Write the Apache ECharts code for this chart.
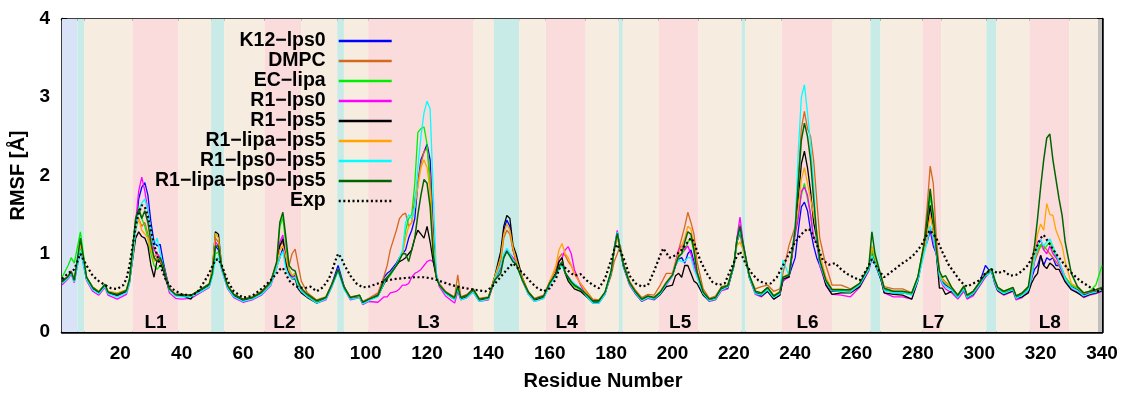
<!DOCTYPE html>
<html>
<head>
<meta charset="utf-8">
<script src="https://cdn.jsdelivr.net/npm/echarts@6/dist/echarts.min.js"></script>
<style>
  html, body { margin: 0; padding: 0; background: #ffffff; }
  #chart { width: 1125px; height: 396px; }
</style>
</head>
<body>
<div id="chart"></div>
<script>
// Residue numbers sampled for the simulated RMSF profiles (one row per stretch of sequence)
const residues = [
  1, 3, 4, 5, 7, 9, 11, 13, 15, 16, 19, 22, 23,
  24, 25, 26, 27, 28, 29, 30, 31, 32, 33, 34, 35, 36, 38,
  40, 43, 44, 46, 49, 50, 51, 52, 53, 55, 57, 60, 63,
  66, 69, 71, 72, 73, 74, 75, 76, 77, 78, 79, 81,
  84, 87, 89, 91, 93, 95, 98, 99, 101,
  104, 106, 107, 108, 110, 111, 112, 113, 114, 115, 116, 117,
  118, 119, 120, 121, 122, 123, 124, 126, 128, 129, 130, 131,
  133, 135, 137, 140, 142, 144, 145, 146, 147, 148, 149, 151, 153,
  155, 158, 160, 162, 163, 164, 165, 166, 167, 168, 170, 172,
  174, 176, 178, 180, 181, 182, 183, 184, 186, 188, 190, 192,
  194, 196, 198, 200, 201, 202, 203, 204, 205, 206, 207, 208,
  210, 212, 214, 216, 218, 220, 221, 222, 223, 225, 227, 229, 231,
  233, 235, 236, 238, 240, 241, 242, 243, 244, 245, 246, 247, 248, 250,
  252, 255, 258, 261, 264, 265, 266, 268, 269, 272, 275, 278, 280,
  282, 283, 284, 285, 286, 287, 288, 289,
  291, 293, 295, 296, 298, 300, 302, 303, 304, 305, 306, 308, 311, 312,
  314, 316, 317, 318, 319, 320, 321, 322, 323, 324, 325, 326, 327, 328,
  330, 332, 334, 336, 338, 340
];

// RMSF (Å) per system, same row layout as residues
const k12Lps0 = [
  0.62, 0.70, 0.76, 0.65, 1.10, 0.68, 0.55, 0.50, 0.59, 0.50, 0.46, 0.52, 0.66,
  0.98, 1.30, 1.70, 1.85, 1.91, 1.75, 1.40, 1.15, 1.10, 1.12, 0.90, 0.72, 0.56, 0.47,
  0.46, 0.46, 0.48, 0.52, 0.60, 0.76, 1.10, 1.05, 0.82, 0.57, 0.46, 0.40, 0.43,
  0.50, 0.62, 0.84, 0.95, 1.07, 0.85, 0.76, 0.70, 0.72, 0.60, 0.53, 0.46,
  0.39, 0.43, 0.62, 0.85, 0.58, 0.43, 0.45, 0.37, 0.41,
  0.48, 0.70, 0.75, 0.78, 0.88, 0.95, 1.00, 1.05, 1.20, 1.30, 1.45, 1.90,
  2.20, 2.30, 2.40, 2.20, 1.30, 0.72, 0.60, 0.50, 0.45, 0.43, 0.55, 0.43,
  0.46, 0.53, 0.41, 0.43, 0.69, 0.95, 1.30, 1.43, 1.35, 1.05, 0.92, 0.68, 0.50,
  0.41, 0.45, 0.62, 0.75, 0.85, 0.88, 0.75, 0.70, 0.65, 0.60, 0.55, 0.47,
  0.39, 0.39, 0.50, 0.77, 1.05, 1.28, 1.05, 0.85, 0.62, 0.50, 0.41, 0.45,
  0.43, 0.50, 0.62, 0.72, 0.85, 0.93, 0.95, 0.88, 1.00, 1.05, 0.90, 0.75,
  0.50, 0.41, 0.43, 0.56, 0.58, 0.85, 1.15, 1.30, 1.10, 0.72, 0.51, 0.48, 0.55,
  0.45, 0.50, 0.65, 0.72, 0.95, 1.30, 1.60, 1.66, 1.55, 1.30, 1.10, 0.95, 0.85, 0.64,
  0.52, 0.52, 0.52, 0.60, 0.81, 1.00, 0.90, 0.69, 0.54, 0.50, 0.50, 0.48, 0.69,
  1.05, 1.15, 1.30, 1.10, 1.00, 0.72, 0.64, 0.60,
  0.55, 0.45, 0.57, 0.45, 0.50, 0.62, 0.85, 0.80, 0.78, 0.64, 0.55, 0.49, 0.55, 0.44,
  0.48, 0.55, 0.68, 0.80, 0.85, 0.98, 0.85, 0.95, 0.92, 0.95, 0.85, 0.85, 0.78, 0.68,
  0.58, 0.54, 0.47, 0.50, 0.52, 0.55
];
const dmpc = [
  0.65, 0.72, 0.78, 0.67, 1.08, 0.70, 0.57, 0.52, 0.60, 0.52, 0.49, 0.54, 0.68,
  1.00, 1.35, 1.45, 1.35, 1.40, 1.25, 1.10, 0.95, 1.00, 0.95, 0.85, 0.70, 0.56, 0.48,
  0.48, 0.47, 0.49, 0.54, 0.62, 0.80, 1.20, 1.15, 0.85, 0.60, 0.48, 0.42, 0.45,
  0.52, 0.64, 0.88, 1.10, 1.15, 0.90, 0.85, 1.00, 1.06, 0.85, 0.65, 0.50,
  0.41, 0.45, 0.62, 0.80, 0.57, 0.45, 0.47, 0.39, 0.43,
  0.50, 0.72, 0.85, 1.05, 1.30, 1.45, 1.50, 1.52, 1.35, 1.40, 1.70, 1.90,
  2.15, 2.30, 2.35, 2.00, 1.20, 0.72, 0.62, 0.52, 0.47, 0.45, 0.73, 0.45,
  0.48, 0.55, 0.43, 0.45, 0.70, 0.90, 1.20, 1.30, 1.25, 1.05, 0.90, 0.70, 0.52,
  0.43, 0.47, 0.65, 0.80, 0.95, 1.00, 0.98, 0.90, 0.85, 0.75, 0.62, 0.52,
  0.42, 0.41, 0.50, 0.72, 0.90, 1.00, 1.11, 0.88, 0.65, 0.53, 0.44, 0.48,
  0.47, 0.60, 0.75, 0.75, 0.90, 1.05, 1.20, 1.35, 1.53, 1.40, 1.25, 0.90,
  0.55, 0.43, 0.46, 0.58, 0.60, 0.85, 1.15, 1.25, 1.05, 0.72, 0.55, 0.58, 0.60,
  0.52, 0.55, 0.75, 1.11, 1.35, 2.00, 2.60, 2.82, 2.60, 2.50, 2.20, 1.70, 1.20, 0.85,
  0.60, 0.60, 0.55, 0.62, 0.82, 1.05, 0.92, 0.72, 0.58, 0.55, 0.55, 0.50, 0.70,
  1.15, 1.60, 2.12, 1.90, 1.20, 0.78, 0.68, 0.64,
  0.57, 0.47, 0.58, 0.47, 0.52, 0.63, 0.75, 0.77, 0.80, 0.67, 0.57, 0.52, 0.56, 0.46,
  0.50, 0.57, 0.73, 0.90, 1.00, 1.10, 1.10, 1.05, 1.00, 0.95, 0.90, 0.85, 0.80, 0.70,
  0.60, 0.56, 0.49, 0.51, 0.53, 0.56
];
const ecLipa = [
  0.70, 0.85, 0.95, 0.88, 1.28, 0.70, 0.57, 0.51, 0.61, 0.51, 0.48, 0.53, 0.66,
  1.05, 1.45, 1.60, 1.45, 1.35, 1.20, 1.00, 0.85, 0.80, 0.85, 0.80, 0.66, 0.53, 0.47,
  0.47, 0.46, 0.48, 0.53, 0.60, 0.72, 1.00, 1.02, 0.82, 0.58, 0.47, 0.41, 0.43,
  0.50, 0.63, 0.88, 1.35, 1.46, 1.10, 0.80, 0.72, 0.75, 0.63, 0.55, 0.47,
  0.39, 0.43, 0.60, 0.79, 0.56, 0.43, 0.47, 0.37, 0.41,
  0.46, 0.62, 0.68, 0.72, 0.85, 0.92, 1.00, 1.30, 1.45, 1.50, 1.90, 2.55,
  2.60, 2.62, 2.40, 1.80, 1.00, 0.70, 0.60, 0.50, 0.45, 0.43, 0.60, 0.43,
  0.46, 0.54, 0.41, 0.43, 0.66, 0.80, 0.95, 1.03, 0.98, 0.90, 0.88, 0.66, 0.50,
  0.41, 0.45, 0.62, 0.73, 0.82, 0.88, 0.75, 0.68, 0.63, 0.58, 0.54, 0.47,
  0.39, 0.39, 0.50, 0.77, 1.05, 1.26, 1.05, 0.85, 0.62, 0.50, 0.42, 0.45,
  0.43, 0.50, 0.62, 0.72, 0.85, 0.95, 1.00, 1.05, 1.15, 1.20, 1.02, 0.75,
  0.50, 0.42, 0.44, 0.57, 0.59, 0.86, 1.20, 1.38, 1.15, 0.73, 0.52, 0.49, 0.56,
  0.46, 0.51, 0.70, 0.72, 1.30, 1.50, 1.75, 1.90, 1.70, 1.50, 1.20, 1.20, 0.90, 0.65,
  0.53, 0.53, 0.53, 0.61, 0.82, 1.05, 0.92, 0.70, 0.55, 0.51, 0.51, 0.49, 0.70,
  1.10, 1.40, 1.74, 1.45, 1.03, 0.75, 0.66, 0.62,
  0.56, 0.46, 0.58, 0.46, 0.51, 0.62, 0.73, 0.76, 0.80, 0.66, 0.56, 0.51, 0.56, 0.45,
  0.49, 0.56, 0.73, 0.95, 1.05, 1.12, 1.05, 1.10, 1.15, 1.05, 0.98, 0.90, 0.80, 0.70,
  0.60, 0.56, 0.50, 0.52, 0.60, 0.85
];
const r1Lps0 = [
  0.60, 0.68, 0.74, 0.63, 1.05, 0.66, 0.52, 0.47, 0.57, 0.47, 0.42, 0.48, 0.62,
  0.95, 1.40, 1.80, 1.98, 1.80, 1.55, 1.30, 1.05, 1.00, 0.95, 0.82, 0.66, 0.50, 0.43,
  0.42, 0.43, 0.45, 0.50, 0.57, 0.72, 1.15, 1.10, 0.80, 0.55, 0.44, 0.38, 0.41,
  0.47, 0.59, 0.82, 1.15, 1.24, 0.95, 0.76, 0.70, 0.71, 0.60, 0.52, 0.45,
  0.37, 0.41, 0.58, 0.79, 0.55, 0.41, 0.44, 0.35, 0.39,
  0.38, 0.45, 0.45, 0.50, 0.52, 0.55, 0.60, 0.60, 0.62, 0.70, 0.75, 0.77,
  0.80, 0.85, 0.90, 0.92, 0.90, 0.75, 0.58, 0.46, 0.40, 0.37, 0.52, 0.41,
  0.44, 0.51, 0.39, 0.41, 0.66, 0.82, 0.95, 1.05, 1.00, 0.95, 0.90, 0.66, 0.48,
  0.39, 0.43, 0.60, 0.75, 0.90, 0.95, 1.05, 1.09, 1.00, 0.80, 0.60, 0.46,
  0.37, 0.37, 0.48, 0.76, 1.08, 1.30, 1.05, 0.83, 0.60, 0.48, 0.39, 0.43,
  0.41, 0.48, 0.60, 0.72, 0.88, 1.05, 1.11, 1.05, 1.10, 1.00, 0.85, 0.72,
  0.48, 0.39, 0.41, 0.53, 0.55, 0.85, 1.20, 1.47, 1.15, 0.70, 0.48, 0.45, 0.52,
  0.42, 0.47, 0.66, 0.70, 1.25, 1.45, 1.80, 1.85, 1.75, 1.50, 1.20, 1.15, 0.85, 0.60,
  0.48, 0.47, 0.45, 0.57, 0.78, 0.95, 0.88, 0.66, 0.50, 0.45, 0.45, 0.42, 0.65,
  1.05, 1.20, 1.34, 1.15, 1.00, 0.70, 0.60, 0.55,
  0.50, 0.42, 0.52, 0.42, 0.46, 0.58, 0.70, 0.74, 0.78, 0.62, 0.52, 0.47, 0.52, 0.41,
  0.44, 0.52, 0.68, 0.90, 1.15, 1.18, 1.05, 1.00, 1.10, 1.00, 0.95, 0.88, 0.78, 0.66,
  0.55, 0.51, 0.44, 0.47, 0.49, 0.52
];
const r1Lps5 = [
  0.66, 0.70, 0.76, 0.66, 1.12, 0.68, 0.56, 0.50, 0.60, 0.50, 0.47, 0.52, 0.64,
  0.92, 1.20, 1.28, 1.22, 1.20, 1.10, 0.85, 0.70, 0.92, 0.90, 0.80, 0.65, 0.54, 0.47,
  0.47, 0.42, 0.48, 0.53, 0.60, 0.78, 1.28, 1.25, 0.85, 0.58, 0.47, 0.41, 0.43,
  0.50, 0.62, 0.84, 1.10, 1.19, 0.90, 0.74, 0.68, 0.68, 0.55, 0.50, 0.44,
  0.37, 0.43, 0.60, 0.80, 0.56, 0.43, 0.45, 0.37, 0.41,
  0.46, 0.62, 0.68, 0.75, 0.85, 0.90, 0.92, 0.95, 1.00, 1.05, 1.20, 1.30,
  1.25, 1.20, 1.35, 1.15, 0.90, 0.70, 0.60, 0.50, 0.44, 0.42, 0.55, 0.42,
  0.45, 0.53, 0.41, 0.43, 0.70, 1.03, 1.35, 1.49, 1.45, 1.11, 1.00, 0.70, 0.50,
  0.41, 0.44, 0.62, 0.75, 0.90, 0.95, 0.75, 0.65, 0.60, 0.55, 0.52, 0.45,
  0.38, 0.38, 0.49, 0.75, 1.05, 1.22, 1.05, 0.84, 0.62, 0.49, 0.40, 0.44,
  0.42, 0.48, 0.58, 0.60, 0.72, 0.75, 0.70, 0.85, 0.85, 0.75, 0.65, 0.62,
  0.47, 0.40, 0.42, 0.55, 0.56, 0.84, 1.15, 1.30, 1.10, 0.70, 0.50, 0.46, 0.52,
  0.42, 0.47, 0.68, 0.70, 1.30, 1.70, 2.15, 2.31, 2.10, 1.80, 1.40, 1.20, 0.90, 0.60,
  0.48, 0.50, 0.50, 0.58, 0.80, 0.98, 0.88, 0.66, 0.50, 0.48, 0.47, 0.42, 0.66,
  1.10, 1.30, 1.62, 1.30, 1.00, 0.56, 0.56, 0.48,
  0.52, 0.44, 0.55, 0.44, 0.48, 0.60, 0.72, 0.75, 0.78, 0.64, 0.53, 0.48, 0.53, 0.43,
  0.45, 0.50, 0.62, 0.70, 0.75, 0.98, 0.85, 0.81, 0.88, 0.85, 0.80, 0.80, 0.72, 0.64,
  0.54, 0.50, 0.45, 0.48, 0.50, 0.53
];
const r1LipaLps5 = [
  0.63, 0.70, 0.76, 0.66, 1.12, 0.70, 0.57, 0.52, 0.61, 0.52, 0.50, 0.54, 0.66,
  0.96, 1.30, 1.45, 1.30, 1.25, 1.20, 1.05, 0.90, 0.95, 0.90, 0.85, 0.68, 0.55, 0.48,
  0.48, 0.47, 0.49, 0.54, 0.61, 0.80, 1.26, 1.20, 0.85, 0.59, 0.48, 0.42, 0.44,
  0.51, 0.63, 0.85, 1.05, 1.10, 0.95, 0.78, 0.73, 0.74, 0.62, 0.55, 0.48,
  0.40, 0.44, 0.61, 0.80, 0.57, 0.44, 0.46, 0.38, 0.42,
  0.47, 0.64, 0.70, 0.75, 0.85, 0.95, 1.00, 1.20, 1.35, 1.40, 1.60, 1.85,
  2.10, 2.20, 2.10, 1.80, 1.10, 0.70, 0.60, 0.51, 0.46, 0.44, 0.58, 0.44,
  0.47, 0.54, 0.42, 0.44, 0.70, 0.95, 1.25, 1.38, 1.30, 1.08, 0.92, 0.70, 0.51,
  0.42, 0.46, 0.64, 0.85, 1.05, 1.13, 1.00, 0.95, 0.85, 0.75, 0.62, 0.50,
  0.40, 0.40, 0.50, 0.76, 1.05, 1.20, 1.08, 0.86, 0.63, 0.51, 0.42, 0.46,
  0.44, 0.52, 0.64, 0.74, 0.88, 1.00, 1.10, 1.20, 1.35, 1.32, 1.10, 0.78,
  0.51, 0.42, 0.44, 0.57, 0.59, 0.85, 1.10, 1.15, 1.05, 0.72, 0.52, 0.50, 0.57,
  0.47, 0.52, 0.70, 0.75, 1.30, 1.60, 1.95, 2.10, 1.90, 1.70, 1.50, 1.30, 1.00, 0.70,
  0.55, 0.55, 0.53, 0.62, 0.84, 1.10, 0.95, 0.72, 0.56, 0.52, 0.52, 0.50, 0.70,
  1.05, 1.25, 1.49, 1.30, 1.05, 0.76, 0.67, 0.63,
  0.57, 0.47, 0.59, 0.47, 0.52, 0.63, 0.74, 0.77, 0.80, 0.67, 0.57, 0.52, 0.57, 0.46,
  0.50, 0.58, 0.78, 1.00, 1.25, 1.38, 1.30, 1.64, 1.50, 1.49, 1.30, 1.20, 1.10, 0.90,
  0.62, 0.57, 0.50, 0.52, 0.54, 0.57
];
const r1Lps0Lps5 = [
  0.62, 0.69, 0.75, 0.64, 1.05, 0.67, 0.54, 0.49, 0.58, 0.49, 0.45, 0.50, 0.62,
  0.95, 1.30, 1.55, 1.65, 1.70, 1.55, 1.30, 1.10, 1.20, 1.00, 0.85, 0.68, 0.53, 0.46,
  0.45, 0.45, 0.47, 0.51, 0.58, 0.70, 0.92, 0.95, 0.80, 0.56, 0.45, 0.39, 0.42,
  0.48, 0.60, 0.82, 0.95, 1.03, 0.80, 0.72, 0.68, 0.70, 0.58, 0.52, 0.45,
  0.37, 0.42, 0.58, 0.78, 0.54, 0.42, 0.44, 0.36, 0.40,
  0.45, 0.63, 0.70, 0.74, 0.86, 0.95, 1.05, 1.40, 1.50, 1.45, 1.60, 2.10,
  2.50, 2.80, 2.95, 2.85, 1.80, 0.75, 0.60, 0.49, 0.44, 0.41, 0.55, 0.41,
  0.44, 0.51, 0.39, 0.42, 0.67, 0.85, 1.00, 1.07, 1.00, 0.92, 0.88, 0.66, 0.48,
  0.39, 0.43, 0.60, 0.72, 0.80, 0.85, 0.75, 0.70, 0.66, 0.62, 0.56, 0.46,
  0.37, 0.37, 0.48, 0.76, 1.08, 1.28, 1.05, 0.84, 0.61, 0.49, 0.40, 0.44,
  0.42, 0.49, 0.61, 0.72, 0.86, 0.92, 0.90, 0.90, 0.95, 0.95, 0.80, 0.70,
  0.49, 0.40, 0.42, 0.54, 0.57, 0.84, 1.15, 1.30, 1.10, 0.70, 0.49, 0.47, 0.54,
  0.44, 0.49, 0.92, 0.72, 1.35, 2.30, 3.00, 3.16, 2.80, 2.40, 1.90, 1.20, 0.88, 0.64,
  0.53, 0.52, 0.51, 0.60, 0.80, 0.98, 0.88, 0.68, 0.53, 0.50, 0.50, 0.47, 0.66,
  1.00, 1.15, 1.36, 1.20, 1.00, 0.72, 0.62, 0.58,
  0.53, 0.44, 0.55, 0.44, 0.49, 0.60, 0.72, 0.74, 0.78, 0.64, 0.54, 0.49, 0.54, 0.43,
  0.47, 0.54, 0.70, 0.92, 1.10, 1.18, 1.10, 1.15, 1.19, 1.10, 1.00, 0.90, 0.80, 0.68,
  0.57, 0.53, 0.46, 0.49, 0.51, 0.54
];
const r1LipaLps0Lps5 = [
  0.64, 0.71, 0.77, 0.66, 1.20, 0.70, 0.57, 0.51, 0.61, 0.51, 0.48, 0.53, 0.67,
  1.05, 1.45, 1.57, 1.45, 1.55, 1.40, 1.15, 0.95, 0.90, 0.95, 0.85, 0.68, 0.55, 0.48,
  0.48, 0.47, 0.49, 0.54, 0.61, 0.75, 1.10, 1.10, 0.84, 0.59, 0.48, 0.42, 0.44,
  0.51, 0.64, 0.90, 1.40, 1.53, 1.20, 0.85, 0.80, 0.78, 0.64, 0.56, 0.48,
  0.40, 0.44, 0.61, 0.80, 0.57, 0.44, 0.47, 0.38, 0.42,
  0.47, 0.66, 0.70, 0.74, 0.85, 0.92, 1.00, 1.00, 0.90, 1.05, 1.20, 1.50,
  1.75, 1.95, 1.90, 1.60, 1.00, 0.70, 0.60, 0.51, 0.46, 0.44, 0.58, 0.44,
  0.47, 0.55, 0.42, 0.44, 0.66, 0.75, 0.95, 1.03, 0.97, 0.90, 0.87, 0.67, 0.51,
  0.42, 0.46, 0.63, 0.74, 0.84, 0.90, 0.76, 0.70, 0.64, 0.60, 0.55, 0.48,
  0.40, 0.40, 0.51, 0.78, 1.06, 1.26, 1.06, 0.86, 0.63, 0.51, 0.42, 0.46,
  0.44, 0.51, 0.63, 0.73, 0.86, 0.97, 1.00, 1.15, 1.28, 1.25, 1.05, 0.77,
  0.51, 0.42, 0.44, 0.57, 0.59, 0.86, 1.18, 1.35, 1.12, 0.73, 0.52, 0.50, 0.57,
  0.46, 0.51, 0.70, 0.73, 1.32, 1.90, 2.45, 2.67, 2.50, 2.20, 1.70, 1.25, 0.92, 0.66,
  0.54, 0.54, 0.54, 0.62, 0.84, 1.28, 1.00, 0.71, 0.56, 0.52, 0.52, 0.50, 0.71,
  1.12, 1.45, 1.83, 1.50, 1.05, 0.78, 0.70, 0.72,
  0.57, 0.47, 0.59, 0.47, 0.52, 0.63, 0.74, 0.78, 0.81, 0.67, 0.57, 0.52, 0.57, 0.46,
  0.50, 0.58, 0.85, 1.10, 1.45, 1.85, 2.20, 2.48, 2.53, 2.20, 1.95, 1.70, 1.49, 1.15,
  0.75, 0.58, 0.50, 0.52, 0.54, 0.57
];

// Experimental RMSF, [residue, Å]
const expRmsf = [
  [1, 0.68], [3, 0.75], [5, 0.80], [7, 1.00], [9, 0.85], [11, 0.72], [13, 0.65], [15, 0.60],
  [17, 0.56], [19, 0.55], [21, 0.60], [22, 0.68], [23, 0.85], [24, 1.10], [25, 1.35], [26, 1.52],
  [27, 1.62], [28, 1.60], [29, 1.48], [30, 1.30], [31, 1.12], [32, 0.98], [33, 0.85], [34, 0.75],
  [35, 0.65], [37, 0.55], [40, 0.48], [43, 0.47], [45, 0.50], [47, 0.62], [49, 0.75], [50, 0.84],
  [51, 0.92], [52, 0.93], [53, 0.86], [55, 0.65], [57, 0.52], [60, 0.44], [63, 0.46], [66, 0.55],
  [69, 0.66], [71, 0.75], [72, 0.80], [73, 0.82], [74, 0.74], [75, 0.66], [76, 0.62], [78, 0.57],
  [80, 0.56], [82, 0.58], [84, 0.52], [86, 0.57], [88, 0.68], [89, 0.78], [90, 0.90], [91, 1.00],
  [92, 0.95], [93, 0.86], [95, 0.72], [97, 0.62], [99, 0.57], [101, 0.58], [104, 0.62], [107, 0.66],
  [110, 0.68], [113, 0.69], [116, 0.70], [119, 0.70], [122, 0.68], [125, 0.64], [128, 0.60], [131, 0.57],
  [134, 0.55], [137, 0.53], [139, 0.52], [141, 0.57], [143, 0.66], [145, 0.75], [147, 0.84], [148, 0.88],
  [150, 0.80], [152, 0.72], [154, 0.63], [156, 0.56], [158, 0.52], [160, 0.56], [162, 0.68], [163, 0.80],
  [164, 0.86], [166, 0.78], [168, 0.72], [170, 0.74], [172, 0.66], [174, 0.60], [176, 0.56], [178, 0.68],
  [180, 0.92], [181, 1.05], [182, 1.12], [184, 0.95], [186, 0.72], [188, 0.62], [190, 0.58], [192, 0.60],
  [194, 0.78], [196, 0.98], [197, 1.07], [199, 0.95], [201, 0.98], [203, 1.05], [205, 1.15], [206, 1.20],
  [207, 1.15], [209, 0.92], [211, 0.76], [213, 0.64], [215, 0.60], [217, 0.62], [219, 0.80], [221, 0.97],
  [222, 1.03], [224, 0.86], [226, 0.74], [228, 0.66], [230, 0.62], [232, 0.62], [234, 0.70], [236, 0.85],
  [238, 1.00], [240, 1.15], [242, 1.25], [244, 1.32], [245, 1.30], [247, 1.12], [249, 0.92], [251, 0.86],
  [253, 0.88], [255, 0.80], [257, 0.74], [259, 0.70], [261, 0.66], [263, 0.78], [265, 0.93], [267, 0.80],
  [269, 0.70], [271, 0.76], [273, 0.82], [275, 0.88], [277, 0.93], [279, 1.00], [281, 1.10], [283, 1.25],
  [284, 1.30], [286, 1.20], [288, 1.02], [290, 0.86], [292, 0.75], [294, 0.64], [296, 0.58], [298, 0.62],
  [300, 0.66], [302, 0.75], [304, 0.80], [306, 0.75], [308, 0.78], [310, 0.72], [312, 0.73], [314, 0.78],
  [316, 0.86], [318, 1.02], [320, 1.20], [321, 1.24], [323, 1.12], [325, 1.00], [327, 0.90], [329, 0.80],
  [331, 0.72], [333, 0.65], [335, 0.60], [337, 0.55], [339, 0.52], [340, 0.55]
];

const seriesNames = [
  'K12\u2212lps0', 'DMPC', 'EC\u2212lipa', 'R1\u2212lps0', 'R1\u2212lps5',
  'R1\u2212lipa\u2212lps5', 'R1\u2212lps0\u2212lps5', 'R1\u2212lipa\u2212lps0\u2212lps5', 'Exp'
];
const seriesValues = [k12Lps0, dmpc, ecLipa, r1Lps0, r1Lps5, r1LipaLps5, r1Lps0Lps5, r1LipaLps0Lps5];
const seriesColors = ['#0000ff', '#d2691e', '#00ee00', '#ff00ff', '#000000', '#ffa500', '#00ffff', '#006400', '#000000'];

// Secondary-structure stretches along the sequence: [start, end, kind]
const segments = [
  [1, 6, 'N'], [6, 8.3, 'H'], [8.3, 24, 'S'], [24, 39, 'L'], [39, 49.6, 'S'], [49.6, 53.9, 'H'],
  [53.9, 67, 'S'], [67, 79, 'L'], [79, 90.7, 'S'], [90.7, 92.9, 'H'], [92.9, 100.8, 'S'],
  [100.8, 135, 'L'], [135, 141.8, 'S'], [141.8, 150, 'H'], [150, 158.7, 'S'], [158.7, 171.7, 'L'],
  [171.7, 182.5, 'S'], [182.5, 183.8, 'H'], [183.8, 195.5, 'S'], [195.5, 208.5, 'L'],
  [208.5, 222.5, 'S'], [222.5, 223.8, 'H'], [223.8, 235.6, 'S'], [235.6, 252, 'L'],
  [252, 264.5, 'S'], [264.5, 267.8, 'H'], [267.8, 281.5, 'S'], [281.5, 287.6, 'L'],
  [287.6, 302.3, 'S'], [302.3, 305.6, 'H'], [305.6, 316.3, 'S'], [316.3, 329.3, 'L'],
  [329.3, 338.7, 'S'], [338.7, 340, 'X']
];
const segmentColors = { N: '#d8e3f8', H: '#c8ebe8', S: '#f6ece0', L: '#fadcdc', X: '#bfbfbf' };

// Loop names and where they sit along the sequence
const loopNames = ['L1', 'L2', 'L3', 'L4', 'L5', 'L6', 'L7', 'L8'];
const loopCenters = [31.5, 73.5, 120.5, 165.5, 202.5, 244, 285, 323];
const loopLabelLevel = 0.12;

const xTickValues = [20, 40, 60, 80, 100, 120, 140, 160, 180, 200, 220, 240, 260, 280, 300, 320, 340];

const FONT = '"Liberation Sans", Arial, Helvetica, sans-serif';

seriesValues.forEach(function (vals, i) {
  if (vals.length !== residues.length) {
    throw new Error(seriesNames[i] + ' has ' + vals.length + ' values, expected ' + residues.length);
  }
});

const chart = echarts.init(document.getElementById('chart'), null, { renderer: 'canvas' });

const series = [];

series.push({
  type: 'line',
  name: 'segments',
  data: [],
  z: 1,
  silent: true,
  markArea: {
    silent: true,
    data: segments.map(function (s) {
      return [
        { xAxis: s[0], itemStyle: { color: segmentColors[s[2]], opacity: 1 } },
        { xAxis: s[1] }
      ];
    })
  }
});

seriesValues.forEach(function (vals, i) {
  series.push({
    type: 'line',
    name: seriesNames[i],
    data: residues.map(function (r, k) { return [r, vals[k]]; }),
    symbol: 'none',
    showSymbol: false,
    z: 3,
    color: seriesColors[i],
    lineStyle: { color: seriesColors[i], width: i === 7 ? 1.5 : 1.3 },
    emphasis: { disabled: true }
  });
});

series.push({
  type: 'line',
  name: 'Exp',
  data: expRmsf,
  symbol: 'none',
  showSymbol: false,
  z: 4,
  color: '#000000',
  lineStyle: { color: '#000000', width: 2.2, type: [2, 2.6], cap: 'butt' },
  emphasis: { disabled: true }
});

series.push({
  type: 'scatter',
  name: 'loops',
  data: loopNames.map(function (n, i) { return { name: n, value: [loopCenters[i], loopLabelLevel] }; }),
  symbol: 'circle',
  symbolSize: 0,
  itemStyle: { color: '#000000' },
  z: 5,
  silent: true,
  emphasis: { disabled: true },
  label: {
    show: true,
    position: 'inside',
    formatter: '{b}',
    color: '#000000',
    opacity: 1,
    fontFamily: FONT,
    fontWeight: 'bold',
    fontSize: 19
  }
});

const axisLine = { show: true, onZero: false, lineStyle: { color: '#000', width: 2.5 } };
const tickStyle = { color: '#000', width: 2 };

chart.setOption({
  animation: false,
  backgroundColor: '#ffffff',
  grid: { left: 62, right: 23, top: 19, bottom: 62, containLabel: false },
  legend: {
    data: seriesNames,
    orient: 'vertical',
    align: 'right',
    right: 732,
    top: 31,
    padding: 0,
    itemGap: 0,
    itemWidth: 53,
    itemHeight: 14,
    selectedMode: false,
    itemStyle: { opacity: 0 },
    lineStyle: { width: 2.6 },
    textStyle: {
      fontFamily: FONT,
      fontWeight: 'bold',
      fontSize: 19.5,
      color: '#000',
      padding: [0, 8, 0, 0]
    }
  },
  xAxis: [
    {
      type: 'value', min: 1, max: 340, position: 'bottom',
      axisLine: axisLine,
      axisTick: { show: true, inside: true, length: 5, lineStyle: tickStyle, customValues: xTickValues },
      axisLabel: {
        customValues: xTickValues, color: '#000', fontFamily: FONT, fontWeight: 'bold', fontSize: 19, margin: 12
      },
      splitLine: { show: false },
      name: 'Residue Number', nameLocation: 'middle', nameGap: 39,
      nameTextStyle: { color: '#000', fontFamily: FONT, fontWeight: 'bold', fontSize: 20, padding: [0, 0, 0, 42] }
    },
    {
      type: 'value', min: 1, max: 340, position: 'top',
      axisLine: axisLine,
      axisTick: { show: true, inside: true, length: 5, lineStyle: tickStyle, customValues: xTickValues },
      axisLabel: { show: false },
      splitLine: { show: false }
    }
  ],
  yAxis: [
    {
      type: 'value', min: 0, max: 4, interval: 1, position: 'left',
      axisLine: axisLine,
      axisTick: { show: true, inside: true, length: 5, lineStyle: tickStyle },
      axisLabel: { color: '#000', fontFamily: FONT, fontWeight: 'bold', fontSize: 19, margin: 12 },
      splitLine: { show: false },
      name: 'RMSF [\u00c5]', nameLocation: 'middle', nameGap: 32, nameRotate: 90,
      nameTextStyle: { color: '#000', fontFamily: FONT, fontWeight: 'bold', fontSize: 20 }
    },
    {
      type: 'value', min: 0, max: 4, interval: 1, position: 'right',
      axisLine: axisLine,
      axisTick: { show: true, inside: true, length: 5, lineStyle: tickStyle },
      axisLabel: { show: false },
      splitLine: { show: false }
    }
  ],
  series: series
});
</script>
</body>
</html>
